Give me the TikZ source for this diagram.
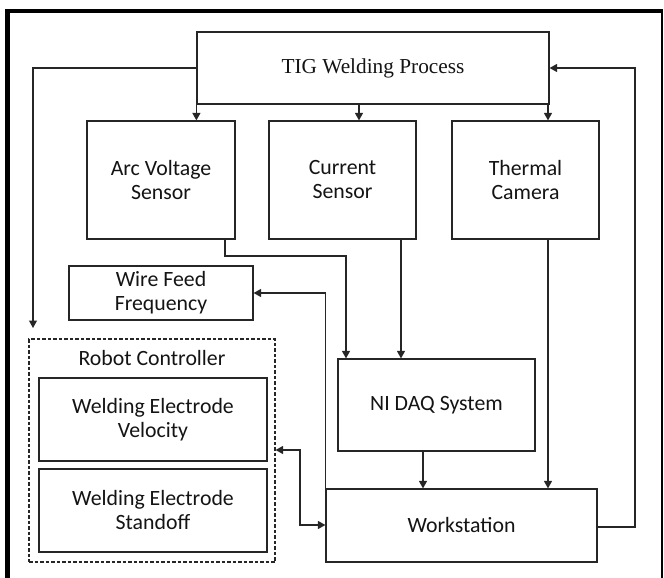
\documentclass[tikz,border=0pt]{standalone}
\usepackage{fontspec}
\setmainfont{Carlito}
\newfontfamily\serifface{Liberation Serif}
\usetikzlibrary{arrows.meta,calc}
\tikzset{
  box/.style={draw=black!85, line width=1.2pt, fill=white, align=center, inner sep=0pt, text=black!92,
              font=\fontsize{21.8}{24}\selectfont},
  conn/.style={draw=black!85, line width=1.2pt},
  arr/.style={conn, -{Triangle[length=7.5pt,width=8pt]}},
  darr/.style={conn, {Triangle[length=7.5pt,width=8pt]}-{Triangle[length=7.5pt,width=8pt]}},
}
\begin{document}
\begin{tikzpicture}[x=1pt,y=-1pt]
\useasboundingbox (0,0) rectangle (664,578);
% frame
\draw[line width=4.5pt] (7.5,600) -- (7.5,11) -- (663,11);
\draw[line width=2pt] (662,11) -- (662,600);

% nodes
\node[box, minimum width=352pt, minimum height=72pt, font=\serifface\fontsize{21.3}{24}\selectfont] (tig) at (373,68) {TIG Welding Process};
\node[box, minimum width=148pt, minimum height=118pt] (arc) at (161,180) {Arc Voltage\\Sensor};
\node[box, minimum width=147pt, minimum height=118pt] (cur) at (342.5,180) {Current\\Sensor};
\node[box, minimum width=147pt, minimum height=118pt] (thm) at (525.5,180) {Thermal\\Camera};
\node[box, minimum width=184pt, minimum height=54pt] (wire) at (161,293) {Wire Feed\\Frequency};
\node[box, minimum width=197pt, minimum height=92pt] (daq) at (436.5,405) {NI DAQ System};
\node[box, minimum width=271pt, minimum height=73pt] (ws) at (461.5,525.5) {Workstation};
\node[draw=black!85, dash pattern=on 3.5pt off 2pt, line width=1.2pt, minimum width=246pt, minimum height=223pt, inner sep=0pt] (rc) at (152,450.5) {};
\node[text=black!92, font=\fontsize{21.8}{24}\selectfont, inner sep=0pt] (rclabel) at (152,358) {Robot Controller};
\node[box, minimum width=228pt, minimum height=83pt] (vel) at (153,419.5) {Welding Electrode\\Velocity};
\node[box, minimum width=228pt, minimum height=83pt] (stand) at (153,510.5) {Welding Electrode\\Standoff};

\coordinate (rcin) at (33,328);

% connectors
\draw[arr] (tig.west) -| (rcin);
\draw[arr] (tig.south west) -- (tig.south west |- arc.north);
\draw[arr] (tig.south -| 359,0) -- (cur.north -| 359,0);
\draw[arr] (tig.south -| 548,0) -- (thm.north -| 548,0);
\draw[arr] (arc.south -| 225,0) -- (225,256) -| (daq.north -| 346,0);
\draw[arr] (cur.south -| 401,0) -- (daq.north -| 401,0);
\draw[arr] (thm.south -| 548,0) -- (ws.north -| 548,0);
\draw[arr] (daq.south -| 423,0) -- (ws.north -| 423,0);
\draw[arr] (ws.east |- 0,527) -- (635,527) |- (tig.east);
\draw[arr] (ws.north west) -- (ws.north west |- 0,293) -- (wire.east |- 0,293);
\draw[darr] (rc.east |- 0,450) -- (300,450) |- (ws.west |- 0,525);
\end{tikzpicture}
\end{document}
